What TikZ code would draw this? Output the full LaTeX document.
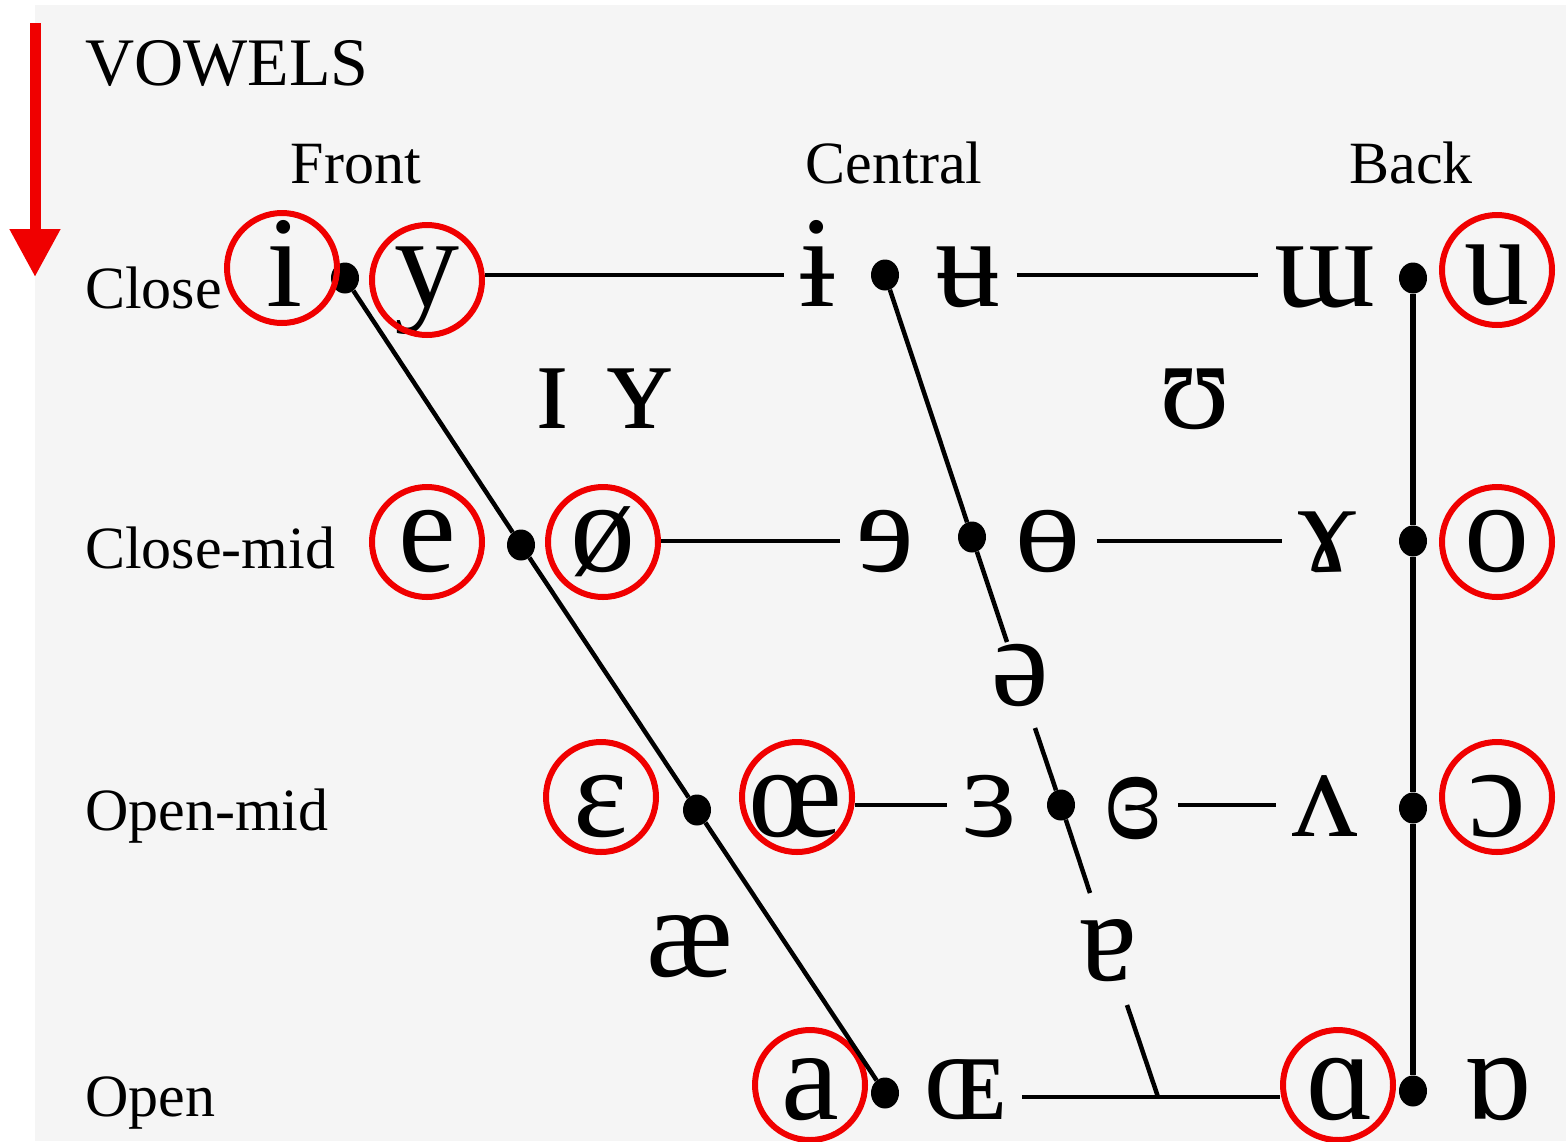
\documentclass[tikz,border=0pt]{standalone}
\usepackage{fontspec}
\setmainfont{Liberation Serif}
\newfontfamily\ipafont{Liberation Serif}
\usetikzlibrary{arrows.meta,shapes.geometric}
\definecolor{bg}{RGB}{245,245,245}
\definecolor{hlred}{RGB}{240,0,0}
\begin{document}
\begin{tikzpicture}[x=1pt,y=-1pt,
  lbl/.style={font=\fontsize{60}{70}\selectfont, inner sep=0pt, anchor=base west},
  hdr/.style={font=\fontsize{60}{70}\selectfont, inner sep=0pt, anchor=base},
  ttl/.style={font=\fontsize{68}{80}\selectfont, inner sep=0pt, anchor=base west},
  v/.style={font=\fontsize{130}{150}\selectfont\ipafont, inner ysep=0pt, inner xsep=16pt, text height=60pt, text depth=0pt},
  dotn/.style={ellipse, fill=black, inner sep=0pt, minimum width=28pt, minimum height=31pt},
  hl/.style={circle, draw=hlred, line width=6pt, inner sep=0pt, minimum size=110pt},
  ln/.style={line width=4.5pt},
  lnb/.style={line width=5.5pt},
  redarrow/.style={draw=hlred, line width=11pt, -{Triangle[width=48pt,length=48pt]}}
]
\useasboundingbox (0,0) rectangle (1566,1141);
\fill[bg] (35,5) rectangle (1566,1141);

% red arrow
\coordinate (arrS) at (35,23);
\coordinate (arrE) at (35,277);
\draw[redarrow] (arrS) -- (arrE);

% headings
\node[ttl] (title) at (85,85) {VOWELS};
\node[hdr] (hFront) at (356,183) {Front};
\node[hdr] (hCentral) at (894,183) {Central};
\node[hdr] (hBack) at (1411,183) {Back};
\node[lbl] (rClose) at (85,308) {Close};
\node[lbl] (rCloseMid) at (85,568) {Close-mid};
\node[lbl] (rOpenMid) at (85,830) {Open-mid};
\node[lbl] (rOpen) at (85,1116) {Open};

% vowel glyphs
\node[v] (n_i) at (285,276) {i};
\node[v] (n_y) at (427,276) {y};
\node[v] (n_ib) at (818,276) {ɨ};
\node[v] (n_ub) at (968,276) {ʉ};
\node[v] (n_mw) at (1325,276) {ɯ};
\node[v] (n_u) at (1497,274) {u};

\node[v] (n_I) at (553,398) {ɪ};
\node[v] (n_Y) at (640,398) {ʏ};
\node[v] (n_U) at (1195,398) {ʊ};

\node[v] (n_e) at (427,541) {e};
\node[v] (n_os) at (603,541) {ø};
\node[v] (n_re) at (885,541) {ɘ};
\node[v] (n_ob) at (1048,541) {ɵ};
\node[v] (n_rh) at (1327,541) {ɤ};
\node[v] (n_o) at (1497,541) {o};

\node[v] (n_schwa) at (1020,675) {ə};

\node[v] (n_eps) at (601,806) {ɛ};
\node[v] (n_oe) at (795,806) {œ};
\node[v] (n_reps) at (990,806) {ɜ};
\node[v] (n_creps) at (1133,808) {ɞ};
\node[v] (n_tv) at (1325,806) {ʌ};
\node[v] (n_oo) at (1497,806) {ɔ};

\node[v] (n_ae) at (690,946) {æ};
\node[v] (n_ta) at (1108,950) {ɐ};

\node[v] (n_a) at (810,1089) {a};
\node[v] (n_OE) at (965,1089) {ɶ};
\node[v] (n_as) at (1340,1089) {ɑ};
\node[v] (n_ta2) at (1497,1089) {ɒ};

% dots
\node[dotn] (d_f1) at (345,278) {};
\node[dotn] (d_f2) at (521,545) {};
\node[dotn] (d_f3) at (697,810) {};
\node[dotn] (d_f4) at (885,1093) {};
\node[dotn] (d_c1) at (885,275) {};
\node[dotn] (d_c2) at (972,537) {};
\node[dotn] (d_c3) at (1061,805) {};
\node[dotn] (d_b1) at (1413,278) {};
\node[dotn] (d_b2) at (1413,541) {};
\node[dotn] (d_b3) at (1413,808) {};
\node[dotn] (d_b4) at (1413,1091) {};

% red circles
\node[hl] (c_i) at (282,268) {};
\node[hl] (c_y) at (427,280) {};
\node[hl] (c_u) at (1497,270) {};
\node[hl] (c_e) at (427,542) {};
\node[hl] (c_os) at (603,542) {};
\node[hl] (c_o) at (1497,542) {};
\node[hl] (c_eps) at (601,797) {};
\node[hl] (c_oe) at (797,797) {};
\node[hl] (c_oo) at (1497,797) {};
\node[hl] (c_a) at (810,1085) {};
\node[hl] (c_as) at (1338,1085) {};

% central line break points
\coordinate (g1a) at (1007,642);
\coordinate (g1b) at (1035,728);
\coordinate (g2a) at (1090,893);
\coordinate (g2b) at (1127,1005);
\coordinate (j) at (1158,1097);

% lines
\draw[ln] (d_f1) -- (d_f2) -- (d_f3) -- (d_f4);
\draw[ln] (d_c1) -- (d_c2) -- (g1a);
\draw[ln] (g1b) -- (d_c3) -- (g2a);
\draw[ln] (g2b) -- (j);
\draw[lnb] (d_b1) -- (d_b2) -- (d_b3) -- (d_b4);

\draw[ln] (c_y.east |- d_c1) -- (n_ib.west |- d_c1);
\draw[ln] (n_ub.east |- d_c1) -- (n_mw.west |- d_c1);
\draw[ln] (c_os.east |- d_b2) -- (n_re.west |- d_b2);
\draw[ln] (n_ob.east |- d_b2) -- (n_rh.west |- d_b2);
\draw[ln] (c_oe.east |- d_c3) -- (n_reps.west |- d_c3);
\draw[ln] (n_creps.east |- d_c3) -- (n_tv.west |- d_c3);
\draw[ln] (n_OE.east |- j) -- (c_as.west |- j);
\end{tikzpicture}
\end{document}
